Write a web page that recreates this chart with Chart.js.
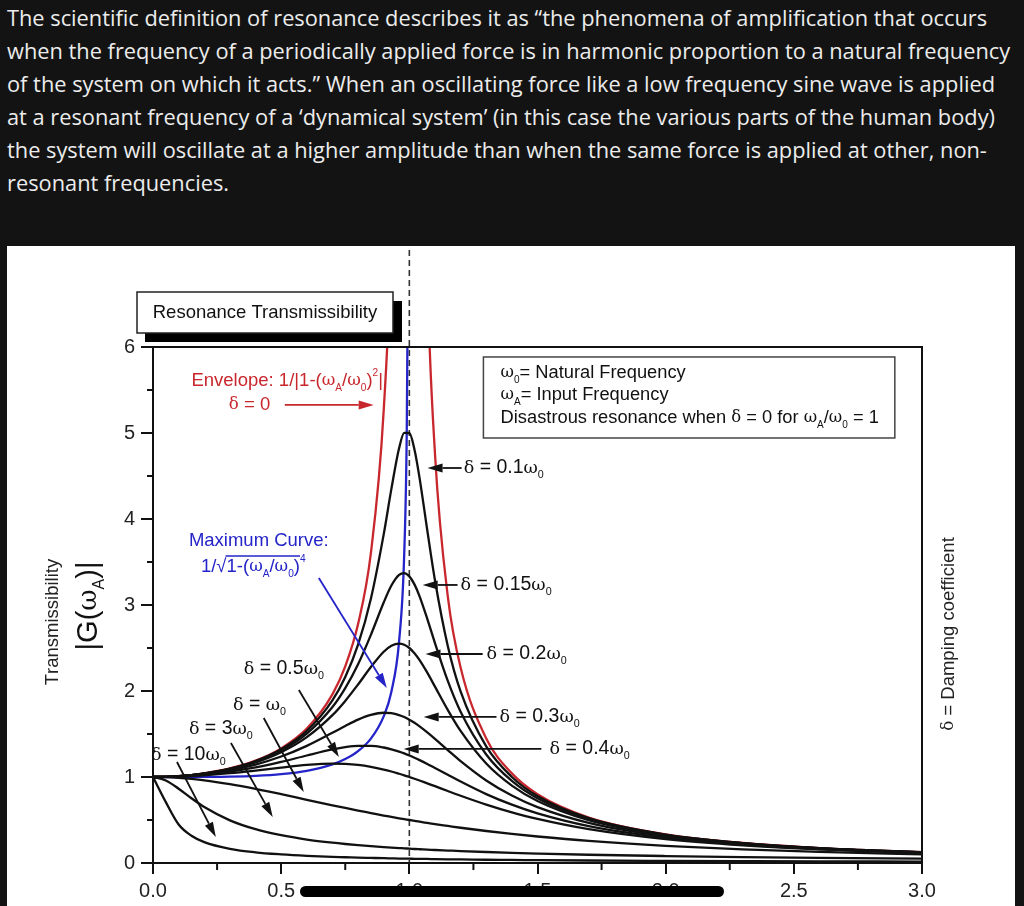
<!DOCTYPE html>
<html>
<head>
<meta charset="utf-8">
<script src="https://cdn.jsdelivr.net/npm/chart.js@4.4.1/dist/chart.umd.min.js"></script>
<style>
  html, body { margin: 0; padding: 0; background: #131313; width: 1024px; height: 906px; overflow: hidden; }
  #intro { position: absolute; left: 7px; top: 1px; color: #ececec; font-family: "Open Sans", sans-serif; font-size: 21.8px; line-height: 33px; white-space: nowrap; }
  #panel { position: absolute; left: 7px; top: 246px; width: 1008px; height: 660px; background: #fff; }
  #panel canvas { display: block; }
  #scrub { position: absolute; left: 300px; top: 886px; width: 424px; height: 11px; border-radius: 6px; background: #000; }
</style>
</head>
<body>
<div id="intro">
  <div>The scientific definition of resonance describes it as “the phenomena of amplification that occurs</div>
  <div>when the frequency of a periodically applied force is in harmonic proportion to a natural frequency</div>
  <div>of the system on which it acts.” When an oscillating force like a low frequency sine wave is applied</div>
  <div>at a resonant frequency of a ‘dynamical system’ (in this case the various parts of the human body)</div>
  <div>the system will oscillate at a higher amplitude than when the same force is applied at other, non-</div>
  <div>resonant frequencies.</div>
</div>
<div id="panel"><canvas id="myChart" width="1008" height="660"></canvas></div>
<div id="scrub"></div>

<script>
// frequency ratio wA/w0 (x axis)
var freqRatio = [0, 0.05, 0.1, 0.15, 0.2, 0.3, 0.4, 0.5, 0.6, 0.7, 0.75, 0.8, 0.85, 0.9, 0.93, 0.96, 0.98, 1.0,
                 1.02, 1.04, 1.07, 1.1, 1.15, 1.2, 1.3, 1.4, 1.5, 1.7, 2.0, 2.3, 2.6, 3.0];

// |G(wA)|
var damp01  = [1.000, 1.002, 1.010, 1.023, 1.041, 1.097, 1.185, 1.322, 1.536, 1.891, 2.162, 2.538, 3.073, 3.821, 4.350, 4.822, 5.001, 5.000,
               4.809, 4.476, 3.869, 3.288, 2.524, 1.995, 1.356, 1.000, 0.778, 0.521, 0.330, 0.232, 0.173, 0.125];
var damp015 = [1.000, 1.002, 1.010, 1.022, 1.040, 1.094, 1.179, 1.307, 1.504, 1.813, 2.033, 2.311, 2.653, 3.029, 3.226, 3.350, 3.371, 3.333,
               3.240, 3.101, 2.839, 2.557, 2.117, 1.759, 1.262, 0.954, 0.753, 0.511, 0.327, 0.230, 0.172, 0.124];
var damp02  = [1.000, 1.002, 1.009, 1.021, 1.038, 1.089, 1.169, 1.288, 1.463, 1.719, 1.885, 2.076, 2.279, 2.457, 2.527, 2.552, 2.538, 2.500,
               2.439, 2.359, 2.213, 2.051, 1.780, 1.536, 1.157, 0.900, 0.721, 0.498, 0.322, 0.228, 0.171, 0.124];
var damp03  = [1.000, 1.002, 1.008, 1.019, 1.034, 1.078, 1.145, 1.238, 1.362, 1.514, 1.593, 1.667, 1.722, 1.747, 1.742, 1.720, 1.697, 1.667,
               1.630, 1.589, 1.519, 1.444, 1.313, 1.185, 0.960, 0.784, 0.649, 0.466, 0.309, 0.222, 0.168, 0.122];
var damp04  = [1.000, 1.002, 1.007, 1.015, 1.027, 1.063, 1.112, 1.176, 1.250, 1.320, 1.347, 1.362, 1.362, 1.343, 1.322, 1.295, 1.274, 1.250,
               1.224, 1.196, 1.152, 1.105, 1.026, 0.947, 0.801, 0.678, 0.577, 0.429, 0.294, 0.214, 0.163, 0.120];
var damp05  = [1.000, 1.001, 1.005, 1.011, 1.020, 1.044, 1.075, 1.109, 1.140, 1.155, 1.152, 1.140, 1.118, 1.087, 1.064, 1.038, 1.020, 1.000,
               0.980, 0.959, 0.926, 0.893, 0.837, 0.782, 0.679, 0.589, 0.512, 0.393, 0.277, 0.205, 0.158, 0.117];
var damp1   = [1.000, 0.998, 0.990, 0.978, 0.962, 0.917, 0.862, 0.800, 0.735, 0.671, 0.640, 0.610, 0.581, 0.552, 0.536, 0.520, 0.510, 0.500,
               0.490, 0.480, 0.466, 0.452, 0.431, 0.410, 0.372, 0.338, 0.308, 0.257, 0.200, 0.159, 0.129, 0.100];
var damp3   = [1.000, 0.960, 0.864, 0.753, 0.651, 0.496, 0.393, 0.323, 0.273, 0.236, 0.221, 0.208, 0.196, 0.185, 0.179, 0.174, 0.170, 0.167,
               0.163, 0.160, 0.156, 0.151, 0.145, 0.139, 0.128, 0.118, 0.110, 0.096, 0.081, 0.069, 0.060, 0.051];
var damp10  = [1.000, 0.708, 0.448, 0.317, 0.243, 0.165, 0.124, 0.100, 0.083, 0.071, 0.067, 0.062, 0.059, 0.056, 0.054, 0.052, 0.051, 0.050,
               0.049, 0.048, 0.047, 0.045, 0.043, 0.042, 0.038, 0.036, 0.033, 0.029, 0.025, 0.022, 0.019, 0.017];
// envelope (delta = 0), unbounded at 1.0
var envelope = [1.000, 1.003, 1.010, 1.023, 1.042, 1.099, 1.190, 1.333, 1.563, 1.961, 2.286, 2.778, 3.604, 5.263, 7.402, 12.755, 25.253, null,
                24.752, 12.255, 6.901, 4.762, 3.101, 2.273, 1.449, 1.042, 0.800, 0.529, 0.333, 0.233, 0.174, 0.125];

// maximum curve (through the peaks)
var maxCurveX = [0, 0.1, 0.2, 0.3, 0.4, 0.5, 0.6, 0.7, 0.75, 0.8, 0.85, 0.9, 0.93, 0.96, 0.98, 0.99, 0.995];
var maxCurveY = [1.000, 1.000, 1.001, 1.004, 1.013, 1.033, 1.072, 1.147, 1.209, 1.301, 1.446, 1.705, 1.992, 2.576, 3.590, 5.038, 7.098];

var xTicks = [0, 0.5, 1.0, 1.5, 2.0, 2.5, 3.0];
var yTicks = [0, 1, 2, 3, 4, 5, 6];

var SANS = '"Liberation Sans", Arial, sans-serif';
var SERIF = '"DejaVu Serif", "Liberation Serif", serif';
var RED = '#c8282d';
var BLUE = '#2424c8';
var INK = '#111';

function pts(xs, ys) {
    var out = [];
    for (var i = 0; i < xs.length; i++) out.push({ x: xs[i], y: ys[i] });
    return out;
}

function curve(label, ys, color) {
    return { label: label, data: pts(freqRatio, ys), borderColor: color, borderWidth: 2.3, pointRadius: 0, fill: false };
}

// text with _x subscripts and ^x superscripts; returns end x (draw=false only measures)
function rich(ctx, str, x, y, size, color, draw) {
    if (draw === undefined) draw = true;
    ctx.fillStyle = color;
    ctx.textBaseline = 'middle';
    ctx.textAlign = 'left';
    var cx = x, i = 0;
    while (i < str.length) {
        var ch = str[i];
        if (ch === '_' || ch === '^') {
            var c2 = str[i + 1];
            var dy = ch === '_' ? size * 0.38 : -size * 0.42;
            ctx.font = (size * 0.55) + 'px ' + SANS;
            if (draw) ctx.fillText(c2, cx, y + dy);
            cx += ctx.measureText(c2).width;
            i += 2;
            continue;
        }
        if (ch === 'ω' || ch === 'δ') {
            ctx.font = (size * 0.9) + 'px ' + SERIF;
        } else {
            ctx.font = size + 'px ' + SANS;
        }
        if (draw) ctx.fillText(ch, cx, y);
        cx += ctx.measureText(ch).width;
        i++;
    }
    return cx;
}

function arrow(ctx, x1, y1, x2, y2, color) {
    var lw = 1.8, hl = 15, hw = 9;
    var a = Math.atan2(y2 - y1, x2 - x1);
    var bx = x2 - hl * Math.cos(a), by = y2 - hl * Math.sin(a);
    ctx.strokeStyle = color;
    ctx.lineWidth = lw;
    ctx.beginPath(); ctx.moveTo(x1, y1); ctx.lineTo(bx, by); ctx.stroke();
    ctx.fillStyle = color;
    ctx.beginPath();
    ctx.moveTo(x2, y2);
    ctx.lineTo(bx + hw / 2 * Math.sin(a), by - hw / 2 * Math.cos(a));
    ctx.lineTo(bx - hw / 2 * Math.sin(a), by + hw / 2 * Math.cos(a));
    ctx.closePath(); ctx.fill();
}

// label text, text x, y, arrow start x, arrow tip x  (data units)
var sideNotes = [
    ['δ = 0.1ω_0', 1.212, 4.593, 1.204, 1.071],
    ['δ = 0.15ω_0', 1.200, 3.233, 1.188, 1.052],
    ['δ = 0.2ω_0', 1.301, 2.430, 1.286, 1.063],
    ['δ = 0.3ω_0', 1.352, 1.698, 1.340, 1.056],
    ['δ = 0.4ω_0', 1.547, 1.326, 1.515, 0.978]
];
// label text, text x, y, arrow from [x,y], arrow to [x,y]
var slantNotes = [
    ['δ = 0.5ω_0', 0.354, 2.256, [0.569, 2.012], [0.725, 1.233]],
    ['δ = ω_0', 0.312, 1.837, [0.432, 1.686], [0.588, 0.826]],
    ['δ = 3ω_0', 0.140, 1.558, [0.304, 1.395], [0.467, 0.535]],
    ['δ = 10ω_0', -0.008, 1.256, [0.0935, 1.174], [0.245, 0.302]]
];

function vertical(ctx, cx, cy, str, size, color) {
    ctx.save();
    ctx.translate(cx, cy);
    ctx.rotate(-Math.PI / 2);
    var w = rich(ctx, str, 0, 0, size, color, false);
    rich(ctx, str, -w / 2, 0, size, color);
    ctx.restore();
}

var decor = {
    id: 'decor',
    beforeDatasetsDraw: function(chart) {
        var ctx = chart.ctx, ca = chart.chartArea;
        var xs = chart.scales.x, ys = chart.scales.y;
        ctx.save();
        // dashed line at resonance
        var xr = xs.getPixelForValue(1);
        ctx.strokeStyle = '#333';
        ctx.lineWidth = 1.6;
        ctx.setLineDash([6, 4]);
        ctx.beginPath(); ctx.moveTo(xr, 4); ctx.lineTo(xr, ca.bottom); ctx.stroke();
        ctx.setLineDash([]);
        // minor ticks
        ctx.strokeStyle = INK;
        ctx.lineWidth = 2;
        for (var v = 0.5; v < 6; v += 1) {
            var py = ys.getPixelForValue(v);
            ctx.beginPath(); ctx.moveTo(ca.left - 6, py); ctx.lineTo(ca.left, py); ctx.stroke();
        }
        for (var u = 0.25; u < 3; u += 0.5) {
            var px = xs.getPixelForValue(u);
            ctx.beginPath(); ctx.moveTo(px, ca.bottom); ctx.lineTo(px, ca.bottom + 7); ctx.stroke();
        }
        ctx.restore();
    },
    afterDatasetsDraw: function(chart) {
        var ctx = chart.ctx, ca = chart.chartArea;
        var xs = chart.scales.x, ys = chart.scales.y;
        function X(v) { return xs.getPixelForValue(v); }
        function Y(v) { return ys.getPixelForValue(v); }
        ctx.save();

        // plot frame
        ctx.strokeStyle = INK;
        ctx.lineWidth = 2;
        ctx.strokeRect(ca.left, ca.top, ca.right - ca.left, ca.bottom - ca.top);

        // title box with shadow
        ctx.fillStyle = '#000';
        ctx.fillRect(138, 55, 257, 41);
        ctx.fillStyle = '#fff';
        ctx.fillRect(130, 46, 256, 41);
        ctx.strokeStyle = '#222';
        ctx.lineWidth = 1.5;
        ctx.strokeRect(130, 46, 256, 41);
        ctx.fillStyle = INK;
        ctx.font = '18.5px ' + SANS;
        ctx.textAlign = 'center';
        ctx.textBaseline = 'middle';
        ctx.fillText('Resonance Transmissibility', 258, 67);

        // legend box
        ctx.fillStyle = '#fff';
        ctx.fillRect(X(1.289), Y(5.884), X(2.894) - X(1.289), Y(4.942) - Y(5.884));
        ctx.strokeStyle = '#444';
        ctx.lineWidth = 1.5;
        ctx.strokeRect(X(1.289), Y(5.884), X(2.894) - X(1.289), Y(4.942) - Y(5.884));
        rich(ctx, 'ω_0= Natural Frequency', X(1.356), Y(5.698), 18.3, INK);
        rich(ctx, 'ω_A= Input Frequency', X(1.356), Y(5.442), 18.3, INK);
        rich(ctx, 'Disastrous resonance when δ = 0 for ω_A/ω_0 = 1', X(1.356), Y(5.174), 18.3, INK);

        // envelope note
        rich(ctx, 'Envelope: 1/|1-(ω_A/ω_0)^2|', X(0.150), Y(5.605), 18.5, RED);
        rich(ctx, 'δ = 0', X(0.296), Y(5.326), 18.5, RED);
        arrow(ctx, X(0.514), Y(5.326), X(0.861), Y(5.326), RED);

        // maximum curve note
        rich(ctx, 'Maximum Curve:', X(0.140), Y(3.744), 18.5, BLUE);
        var fy = Y(3.442);
        var fx = rich(ctx, '1/√', X(0.187), fy, 18.5, BLUE);
        var fx2 = rich(ctx, '1-(ω_A/ω_0)', fx, fy, 18.5, BLUE);
        ctx.strokeStyle = BLUE;
        ctx.lineWidth = 1.3;
        ctx.beginPath(); ctx.moveTo(fx - 1, fy - 11); ctx.lineTo(fx2, fy - 11); ctx.stroke();
        rich(ctx, '^4', fx2, fy, 18.5, BLUE);
        arrow(ctx, X(0.647), Y(3.314), X(0.912), Y(2.035), BLUE);

        // damping notes
        sideNotes.forEach(function(n) {
            rich(ctx, n[0], X(n[1]), Y(n[2]), 19.5, INK);
            arrow(ctx, X(n[3]), Y(n[2]), X(n[4]), Y(n[2]), INK);
        });
        slantNotes.forEach(function(n) {
            rich(ctx, n[0], X(n[1]), Y(n[2]), 19.5, INK);
            arrow(ctx, X(n[3][0]), Y(n[3][1]), X(n[4][0]), Y(n[4][1]), INK);
        });

        // axis titles
        vertical(ctx, 46, 376, 'Transmissibility', 18.5, '#222');
        vertical(ctx, 82, 360, '|G(ω_A)|', 29, INK);
        vertical(ctx, 942, 388, 'δ = Damping coefficient', 18.5, '#222');

        ctx.restore();
    }
};

var ctx = document.getElementById('myChart');
var chart = new Chart(ctx, {
    type: 'line',
    data: {
        datasets: [
            curve('δ = 10ω0', damp10, INK),
            curve('δ = 3ω0', damp3, INK),
            curve('δ = ω0', damp1, INK),
            curve('δ = 0.5ω0', damp05, INK),
            curve('δ = 0.4ω0', damp04, INK),
            curve('δ = 0.3ω0', damp03, INK),
            curve('δ = 0.2ω0', damp02, INK),
            curve('δ = 0.15ω0', damp015, INK),
            curve('δ = 0.1ω0', damp01, INK),
            curve('δ = 0', envelope, RED),
            { label: 'Maximum Curve', data: pts(maxCurveX, maxCurveY), borderColor: BLUE, borderWidth: 2.3, pointRadius: 0, fill: false }
        ]
    },
    options: {
        responsive: false,
        animation: false,
        layout: { padding: { left: 0, top: 101, right: 93, bottom: 0 } },
        plugins: { legend: { display: false }, tooltip: { enabled: false } },
        elements: { line: { cubicInterpolationMode: 'monotone' } },
        scales: {
            x: {
                type: 'linear', min: 0, max: 3,
                afterBuildTicks: function(s) { s.ticks = xTicks.map(function(v) { return { value: v }; }); },
                ticks: { callback: function(v) { return v.toFixed(1); }, font: { family: 'Liberation Sans', size: 20 }, color: '#222', padding: 5, maxRotation: 0 },
                grid: { drawOnChartArea: false, drawTicks: true, tickLength: 11, color: INK, lineWidth: 2 },
                border: { display: true, color: INK, width: 2 },
                afterFit: function(s) { s.height = 43; }
            },
            y: {
                min: 0, max: 6,
                afterBuildTicks: function(s) { s.ticks = yTicks.map(function(v) { return { value: v }; }); },
                ticks: { font: { family: 'Liberation Sans', size: 20 }, color: '#222', padding: 6 },
                grid: { drawOnChartArea: false, drawTicks: true, tickLength: 12, color: INK, lineWidth: 2 },
                border: { display: true, color: INK, width: 2 },
                afterFit: function(s) { s.width = 146; }
            }
        }
    },
    plugins: [decor]
});
</script>
</body>
</html>
